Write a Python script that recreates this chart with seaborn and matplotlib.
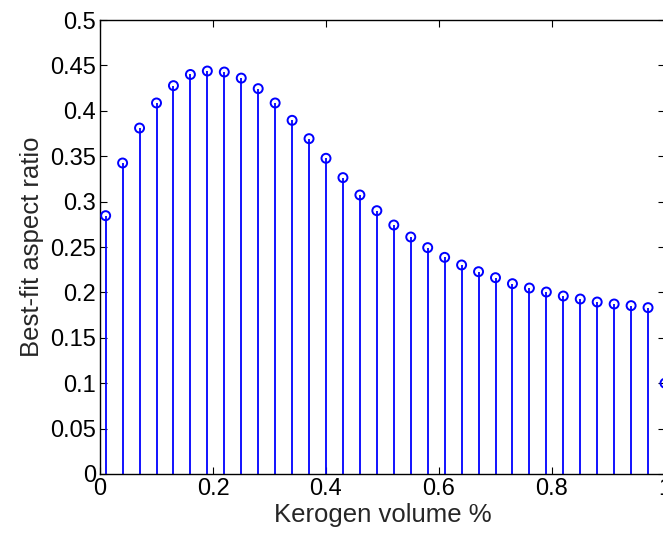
import matplotlib
matplotlib.use("Agg")
import matplotlib.pyplot as plt
import seaborn as sns
import pandas as pd

kerogen_volume = [0.01, 0.04, 0.07, 0.10, 0.13, 0.16, 0.19, 0.22, 0.25, 0.28, 0.31,
                  0.34, 0.37, 0.40, 0.43, 0.46, 0.49, 0.52, 0.55, 0.58, 0.61, 0.64,
                  0.67, 0.70, 0.73, 0.76, 0.79, 0.82, 0.85, 0.88, 0.91, 0.94, 0.97, 1.00]
aspect_ratio = [0.2845, 0.3425, 0.381, 0.4086, 0.4277, 0.440, 0.4438, 0.4427, 0.436,
                0.4244, 0.4086, 0.3895, 0.3693, 0.3477, 0.3264, 0.3073, 0.290, 0.2742,
                0.261, 0.2493, 0.2386, 0.2302, 0.2228, 0.2162, 0.2096, 0.2048, 0.2004,
                0.196, 0.1927, 0.1894, 0.1872, 0.1854, 0.1832, 0.100]
x_ticks = [0, 0.2, 0.4, 0.6, 0.8, 1.0]
x_tick_labels = ["0", "0.2", "0.4", "0.6", "0.8", "1"]
y_ticks = [0, 0.05, 0.1, 0.15, 0.2, 0.25, 0.3, 0.35, 0.4, 0.45, 0.5]
y_tick_labels = ["0", "0.05", "0.1", "0.15", "0.2", "0.25", "0.3", "0.35", "0.4", "0.45", "0.5"]

df = pd.DataFrame({"x": kerogen_volume, "y": aspect_ratio})

sns.set_style("white")
plt.rcParams["font.family"] = ["Liberation Sans", "DejaVu Sans"]

W, H = 663, 536
fig = plt.figure(figsize=(W / 100, H / 100), dpi=100)
ax = fig.add_axes([100 / W, 1 - 474 / H, 565 / W, 454 / H])

ax.vlines(df["x"], 0, df["y"], colors="#0000ff", linewidth=1.3, zorder=2)
sns.scatterplot(data=df, x="x", y="y", ax=ax, marker="o", s=42,
                facecolor="none", edgecolor="#0000ff", linewidth=1.4,
                zorder=3, clip_on=False, legend=False)

ax.set_xlim(0, 1)
ax.set_ylim(0, 0.5)
ax.set_xticks(x_ticks)
ax.set_xticklabels(x_tick_labels)
ax.set_yticks(y_ticks)
ax.set_yticklabels(y_tick_labels)
ax.tick_params(direction="in", length=5, width=0.8, colors="black",
               labelsize=17, top=True, right=True, bottom=True, left=True, pad=3)
for s in ax.spines.values():
    s.set_visible(True)
    s.set_color("black")
    s.set_linewidth(1.0)

ax.set_xlabel("Kerogen volume %", fontsize=18.5, labelpad=2)
ax.set_ylabel("Best-fit aspect ratio", fontsize=18.5, labelpad=4)
ax.grid(False)

fig.savefig("out.png", dpi=100)
